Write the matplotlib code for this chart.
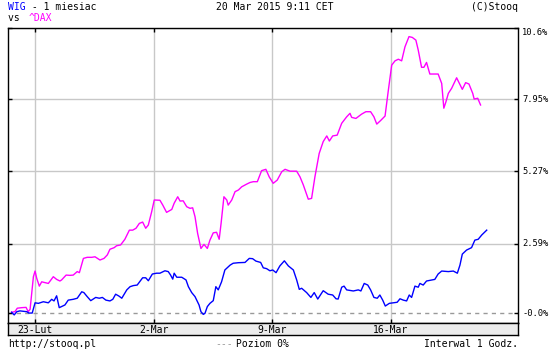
import matplotlib
matplotlib.use("Agg")
import matplotlib.pyplot as plt
import matplotlib.transforms as mtransforms

# time in trading days from 23-Lut (hourly session points), value in % change
wig_t = [-1.00, -0.89, -0.78, -0.65, -0.36, -0.27, -0.13, -0.01, 0.13, 0.34, 0.55, 0.69, 0.79, 0.90,
         1.01, 1.25, 1.39, 1.60, 1.77, 1.96, 2.05, 2.19, 2.34, 2.55, 2.70, 2.83, 2.98, 3.15, 3.27,
         3.39, 3.53, 3.65, 3.86, 4.00, 4.14, 4.30, 4.53, 4.66, 4.77, 4.94, 5.12, 5.26, 5.47, 5.61,
         5.71, 5.80, 5.86, 5.97, 6.18, 6.36, 6.46, 6.60, 6.74, 6.91, 6.99, 7.09, 7.16, 7.26, 7.37,
         7.51, 7.62, 7.72, 7.86, 8.00, 8.22, 8.35, 8.57, 8.85, 9.03, 9.17, 9.31, 9.51, 9.62, 9.76,
         9.90, 10.02, 10.16, 10.32, 10.51, 10.68, 10.89, 11.03, 11.14, 11.24, 11.45, 11.63, 11.77,
         11.92, 12.15, 12.36, 12.55, 12.69, 12.78, 12.93, 13.03, 13.14, 13.42, 13.63, 13.74, 13.88,
         14.03, 14.15, 14.29, 14.43, 14.54, 14.66, 14.77, 14.94, 15.11, 15.27, 15.39, 15.53, 15.67,
         15.78, 15.88, 16.02, 16.16, 16.23, 16.37, 16.51, 16.73, 16.86, 17.00, 17.15, 17.43, 17.64,
         17.81, 17.92, 18.02, 18.20, 18.41, 18.55, 18.69, 18.84, 19.05]
wig_v = [0.04, -0.06, 0.06, 0.09, 0.06, 0.01, 0.01, 0.39, 0.37, 0.43, 0.39, 0.52, 0.46, 0.65,
         0.21, 0.31, 0.49, 0.52, 0.56, 0.80, 0.77, 0.62, 0.47, 0.59, 0.56, 0.59, 0.49, 0.46, 0.52,
         0.71, 0.64, 0.56, 0.87, 0.99, 1.03, 1.05, 1.32, 1.32, 1.21, 1.46, 1.49, 1.49, 1.58, 1.55,
         1.42, 1.27, 1.49, 1.34, 1.34, 1.24, 0.99, 0.77, 0.62, 0.31, 0.06, -0.04, 0.00, 0.25, 0.37,
         0.47, 0.99, 0.87, 1.17, 1.61, 1.79, 1.86, 1.88, 1.89, 2.04, 2.03, 1.94, 1.89, 1.69, 1.66,
         1.58, 1.61, 1.51, 1.76, 1.95, 1.76, 1.61, 1.24, 0.89, 0.93, 0.77, 0.59, 0.77,
         0.53, 0.84, 0.71, 0.68, 0.54, 0.53, 0.97, 1.01, 0.87, 0.83, 0.87, 0.83, 1.11,
         1.05, 0.87, 0.59, 0.56, 0.68, 0.49, 0.27, 0.37, 0.39, 0.41, 0.54, 0.49, 0.46,
         0.68, 0.59, 1.01, 0.97, 1.11, 1.05, 1.20, 1.24, 1.26, 1.46, 1.57, 1.55, 1.57,
         1.49, 1.79, 2.20, 2.35, 2.44, 2.72, 2.75, 2.91, 3.09]

dax_t = [-1.00, -0.86, -0.76, -0.57, -0.39, -0.30, -0.22, -0.15, -0.08, -0.01, 0.06, 0.17, 0.27,
         0.41, 0.55, 0.76, 0.90, 1.04, 1.11, 1.30, 1.46, 1.60, 1.77, 1.86, 2.03, 2.19, 2.38, 2.52,
         2.73, 2.90, 3.04, 3.15, 3.33, 3.43, 3.60, 3.78, 3.97, 4.11, 4.25, 4.39, 4.53, 4.66, 4.77,
         4.91, 5.02, 5.26, 5.38, 5.54, 5.76, 5.86, 6.01, 6.11, 6.24, 6.39, 6.53, 6.64, 6.74, 6.85,
         6.99, 7.12, 7.26, 7.37, 7.51, 7.65, 7.76, 7.84, 7.96, 8.08, 8.14, 8.29, 8.43, 8.57, 8.71,
         8.92, 9.06, 9.20, 9.37, 9.55, 9.73, 9.87, 10.04, 10.21, 10.40, 10.54, 10.75, 11.03, 11.17,
         11.31, 11.52, 11.66, 11.80, 11.98, 12.15, 12.30, 12.41, 12.55, 12.74, 12.93, 13.14, 13.28,
         13.35, 13.53, 13.77, 13.95, 14.15, 14.29, 14.41, 14.57, 14.76, 14.89, 15.04, 15.18, 15.32,
         15.46, 15.60, 15.77, 15.91, 16.06, 16.16, 16.30, 16.40, 16.51, 16.65, 17.00, 17.15, 17.24,
         17.33, 17.43, 17.57, 17.78, 18.02, 18.16, 18.30, 18.46, 18.52, 18.67, 18.79]
dax_v = [0.04, 0.06, 0.19, 0.21, 0.22, 0.06, 0.15, 0.74, 1.36, 1.57, 1.30, 1.01, 1.17,
         1.14, 1.11, 1.36, 1.26, 1.20, 1.24, 1.42, 1.41, 1.42, 1.55, 1.51, 2.04, 2.08, 2.08, 2.10,
         1.98, 2.04, 2.17, 2.38, 2.44, 2.51, 2.54, 2.75, 3.09, 3.09, 3.16, 3.34, 3.39, 3.16, 3.28,
         3.77, 4.21, 4.20, 4.02, 3.75, 3.86, 4.09, 4.33, 4.17, 4.18, 3.96, 3.90, 3.92, 3.59, 2.97,
         2.41, 2.56, 2.41, 2.72, 2.99, 3.01, 2.75, 3.34, 4.33, 4.21, 4.02, 4.21, 4.52, 4.58, 4.70,
         4.80, 4.86, 4.89, 4.89, 5.30, 5.35, 5.07, 4.83, 4.95, 5.26, 5.35, 5.28, 5.28, 5.07,
         4.77, 4.24, 4.27, 5.07, 5.94, 6.38, 6.59, 6.40, 6.59, 6.62, 7.06, 7.30, 7.43,
         7.28, 7.24, 7.40, 7.49, 7.49, 7.30, 7.03, 7.16, 7.33, 8.23, 9.22, 9.38, 9.44,
         9.38, 9.90, 10.28, 10.25, 10.15, 9.78, 9.14, 9.14, 9.32, 8.89, 8.89, 8.54, 7.62,
         7.86, 8.17, 8.36, 8.75, 8.32, 8.57, 8.52, 8.17, 7.96, 7.99, 7.74]

week_pos = [0, 5, 10, 15]
week_labels = ["23-Lut", "2-Mar", "9-Mar", "16-Mar"]
y_ticks = [0.0, 2.59, 5.27, 7.95, 10.6]
y_labels = ["-0.0%", "2.59%", "5.27%", "7.95%", "10.6%"]

mono = "DejaVu Sans Mono"
W, H = 560, 350

fig = plt.figure(figsize=(5.6, 3.5), dpi=100)
fig.patch.set_facecolor("white")

ax = fig.add_axes([8 / W, (H - 323) / H, 510 / W, 295 / H])
ax.set_xlim(-1.152, 20.37)
ax.set_ylim(-0.36, 10.6)

for x in week_pos:
    ax.axvline(x, color="#c8c8c8", lw=1, zorder=1)
for y in y_ticks[1:]:
    ax.axhline(y, color="#c8c8c8", lw=1, zorder=1)
ax.axhline(0, color="#999999", lw=1, ls=(0, (3, 3)), zorder=1)

ax.plot(dax_t, dax_v, color="#ff00ff", lw=1, zorder=3)
ax.plot(wig_t, wig_v, color="#0000ff", lw=1, zorder=4)

ax.set_xticks(week_pos)
ax.set_xticklabels([])
ax.tick_params(axis="x", top=True, bottom=True, direction="in", length=3, width=1)
ax.set_yticks(y_ticks)
ax.set_yticklabels([])
ax.tick_params(axis="y", left=True, right=True, direction="in", length=3, width=1)
for s in ax.spines.values():
    s.set_linewidth(1)
    s.set_color("black")

trans = mtransforms.blended_transform_factory(ax.transAxes, ax.transData)
for y, lab in zip(y_ticks, y_labels):
    ax.text(1.008, y, lab, transform=trans, ha="left",
            va="top" if y == y_ticks[-1] else "center",
            fontsize=6.3, family=mono, color="black")

# date band under the plot
band = fig.add_axes([8 / W, (H - 335) / H, 510 / W, 12 / H], sharex=ax)
band.set_facecolor("#ececec")
band.set_ylim(0, 1)
band.set_yticks([])
band.tick_params(axis="x", bottom=False, top=False, labelbottom=False)
for s in band.spines.values():
    s.set_linewidth(1)
for x, lab in zip(week_pos, week_labels):
    band.text(x, 0.42, lab, ha="center", va="center", fontsize=7, family=mono)

# header and footer
fig.text(8 / W, 1 - 7 / H, "WIG", color="#0000ff", fontsize=7, family=mono, va="center")
fig.text(26 / W, 1 - 7 / H, " - 1 miesiac", color="black", fontsize=7, family=mono, va="center")
fig.text(8 / W, 1 - 18 / H, "vs ", color="black", fontsize=7, family=mono, va="center")
fig.text(29 / W, 1 - 18 / H, "^DAX", color="#ff00ff", fontsize=7, family=mono, va="center")
fig.text(275 / W, 1 - 7 / H, "20 Mar 2015 9:11 CET", ha="center", fontsize=7, family=mono, va="center")
fig.text(518 / W, 1 - 7 / H, "(C)Stooq", ha="right", fontsize=7, family=mono, va="center")

fig.text(8 / W, 1 - 344 / H, "http://stooq.pl", fontsize=7, family=mono, va="center")
fig.text(215 / W, 1 - 344 / H, "---", color="#999999", fontsize=7, family=mono, va="center")
fig.text(236 / W, 1 - 344 / H, "Poziom 0%", fontsize=7, family=mono, va="center")
fig.text(518 / W, 1 - 344 / H, "Interwal 1 Godz.", ha="right", fontsize=7, family=mono, va="center")

fig.savefig("out.png", dpi=100)
